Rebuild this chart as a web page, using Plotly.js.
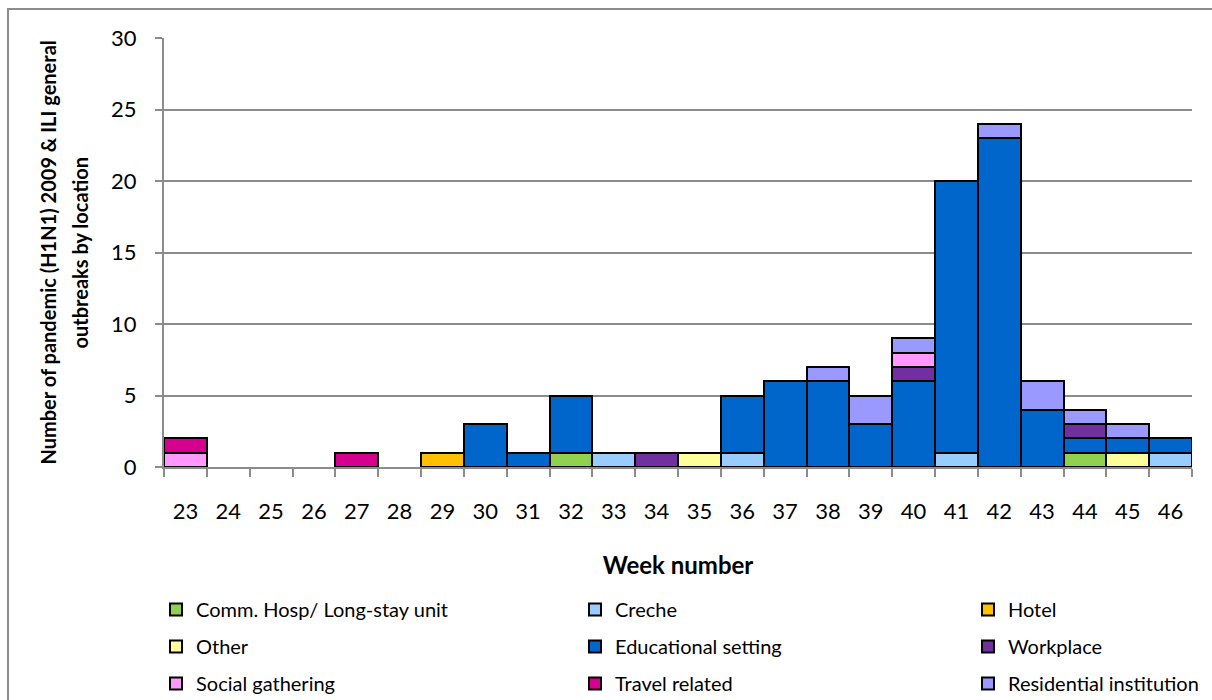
<!DOCTYPE html>
<html>
<head>
<meta charset="utf-8">
<script src="https://cdn.plot.ly/plotly-3.0.1.min.js"></script>
<style>
  html, body { margin: 0; padding: 0; background: #fff; overflow: hidden; }
  #frame { position: absolute; left: 7px; top: 8px; width: 1300px; height: 800px;
           border-left: 2px solid #8c8c8c; border-top: 2px solid #8c8c8c; }
  #chart { position: absolute; left: 0; top: 0; width: 1212px; height: 700px; }
</style>
</head>
<body>
<div id="frame"></div>
<div id="chart"></div>
<script>
const weeks = ["23","24","25","26","27","28","29","30","31","32","33","34","35","36","37","38","39","40","41","42","43","44","45","46"];

//                 23   24   25   26   27   28   29   30   31   32   33   34   35   36   37   38   39   40   41   42   43   44   45   46
const commHosp    = [null,null,null,null,null,null,null,null,null,1,   null,null,null,null,null,null,null,null,null,null,null,1,   null,null];
const creche      = [null,null,null,null,null,null,null,null,null,null,1,   null,null,1,   null,null,null,null,1,   null,null,null,null,1];
const hotel       = [null,null,null,null,null,null,1,   null,null,null,null,null,null,null,null,null,null,null,null,null,null,null,null,null];
const other       = [null,null,null,null,null,null,null,null,null,null,null,null,1,   null,null,null,null,null,null,null,null,null,1,   null];
const educational = [null,null,null,null,null,null,null,3,   1,   4,   null,null,null,4,   6,   6,   3,   6,   19,  23,  4,   1,   1,   1];
const workplace   = [null,null,null,null,null,null,null,null,null,null,null,1,   null,null,null,null,null,1,   null,null,null,1,   null,null];
const social      = [1,   null,null,null,null,null,null,null,null,null,null,null,null,null,null,null,null,1,   null,null,null,null,null,null];
const travel      = [1,   null,null,null,1,   null,null,null,null,null,null,null,null,null,null,null,null,null,null,null,null,null,null,null];
const residential = [null,null,null,null,null,null,null,null,null,null,null,null,null,null,null,1,   2,   1,   null,1,   2,   1,   1,   null];

const seriesNames = ["Comm. Hosp/ Long-stay unit","Creche","Hotel","Other","Educational setting","Workplace","Social gathering","Travel related","Residential institution"];
const seriesData  = [commHosp, creche, hotel, other, educational, workplace, social, travel, residential];
const seriesColors = ["#92D050","#99CCFF","#FFC000","#FFFF99","#0066CC","#7030A0","#FF99FF","#D6008F","#9999FF"];
const seriesLegend = ["legend","legend2","legend3","legend","legend2","legend3","legend","legend2","legend3"];

const yTitleLines = ["Number of pandemic (H1N1) 2009 & ILI general", "outbreaks by location"];
const xTitle = "Week number";

const traces = seriesNames.map((name, i) => ({
  type: "bar",
  name: name,
  x: weeks,
  y: seriesData[i],
  legend: seriesLegend[i],
  legendgroup: "g" + i,
  marker: { color: seriesColors[i], line: { color: "#000", width: 2 } },
  hoverinfo: "x+y+name"
}));

const font = "Lato, 'Open Sans', sans-serif";
const legendCommon = {
  orientation: "v",
  yanchor: "top",
  xanchor: "left",
  y: -0.287,
  bgcolor: "rgba(0,0,0,0)",
  borderwidth: 0,
  traceorder: "grouped",
  tracegroupgap: 8,
  font: { family: font, size: 20, color: "#000" }
};

const layout = {
  width: 1212,
  height: 700,
  margin: { l: 164, r: 20, t: 38, b: 233, autoexpand: false },
  paper_bgcolor: "rgba(0,0,0,0)",
  plot_bgcolor: "rgba(0,0,0,0)",
  barmode: "stack",
  bargap: 0,
  font: { family: font, color: "#000" },
  xaxis: {
    type: "category",
    tickson: "boundaries",
    ticks: "outside",
    ticklen: 8,
    tickwidth: 2,
    tickcolor: "#8c8c8c",
    showline: true,
    linecolor: "#8c8c8c",
    linewidth: 2,
    showgrid: false,
    automargin: false,
    ticklabelstandoff: 24,
    tickfont: { family: font, size: 22, color: "#000" },
    title: { text: "<b>" + xTitle + "</b>", font: { family: font, size: 24, color: "#000" }, standoff: 34 }
  },
  yaxis: {
    range: [0, 30],
    dtick: 5,
    ticks: "outside",
    ticklen: 7,
    tickwidth: 2,
    tickcolor: "#8c8c8c",
    showline: true,
    linecolor: "#8c8c8c",
    linewidth: 2,
    showgrid: true,
    gridcolor: "#8c8c8c",
    gridwidth: 2,
    zeroline: false,
    automargin: false,
    ticklabelstandoff: 14,
    tickfont: { family: font, size: 22, color: "#000" }
  },
  annotations: [
    { text: "<b>" + yTitleLines[0] + "</b>", textangle: -90, xref: "paper", yref: "paper",
      x: (47 - 164) / 1028, y: 0.5, xanchor: "center", yanchor: "middle", showarrow: false,
      font: { family: font, size: 20, color: "#000" } },
    { text: "<b>" + yTitleLines[1] + "</b>", textangle: -90, xref: "paper", yref: "paper",
      x: (79 - 164) / 1028, y: 0.5, xanchor: "center", yanchor: "middle", showarrow: false,
      font: { family: font, size: 20, color: "#000" } }
  ],
  showlegend: true,
  legend:  Object.assign({}, legendCommon, { x: (156 - 164) / 1028 }),
  legend2: Object.assign({}, legendCommon, { x: (575 - 164) / 1028 }),
  legend3: Object.assign({}, legendCommon, { x: (968 - 164) / 1028 })
};

Plotly.newPlot("chart", traces, layout, { displayModeBar: false, staticPlot: true });
</script>
</body>
</html>
